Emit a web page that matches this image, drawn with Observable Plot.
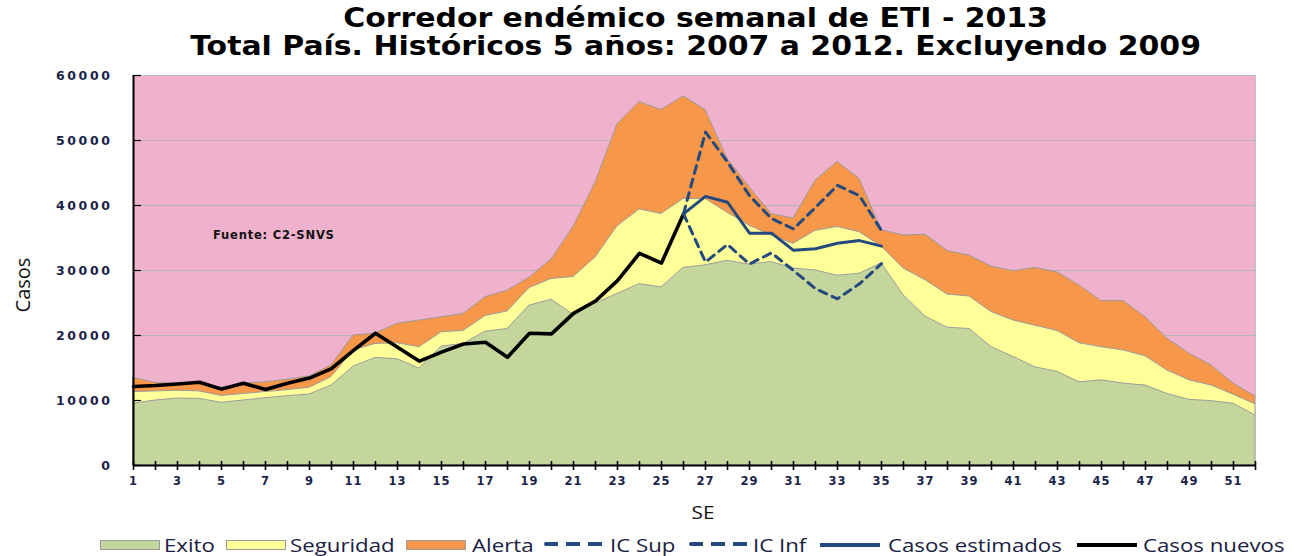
<!DOCTYPE html>
<html>
<head>
<meta charset="utf-8">
<script src="https://cdn.jsdelivr.net/npm/d3@7"></script>
<script src="https://cdn.jsdelivr.net/npm/@observablehq/plot@0.6"></script>
<style>
  body { margin: 0; background: #fff; width: 1293px; height: 556px; position: relative; overflow: hidden; }
  #title { position: absolute; top: 4px; left: 49px; width: 1293px; text-align: center; font-family: "DejaVu Sans", sans-serif; font-weight: bold; font-size: 26px; line-height: 28px; color: #000; transform: scaleX(1.15); transform-origin: 646px 0; }
  #chart { position: absolute; top: 68px; left: 0; }
  #fuente { position: absolute; left: 213px; top: 228px; font-family: "DejaVu Sans", sans-serif; font-weight: bold; font-size: 11.5px; letter-spacing: 0.8px; color: #111; }
  #ylab { position: absolute; left: 22px; top: 285px; transform: translate(-50%, -50%) rotate(-90deg); font-family: "Open Sans", sans-serif; font-size: 20px; color: #111; white-space: nowrap; }
  #xlab { position: absolute; left: 703px; top: 512px; transform: translate(-50%, -50%) scaleX(1.15); font-family: "Open Sans", sans-serif; font-size: 18px; color: #111; }
  .leg { position: absolute; top: 534px; height: 22px; font-family: "Open Sans", sans-serif; font-size: 19px; line-height: 22px; color: #1a2040; white-space: nowrap; }
  .legt { transform: scaleX(1.17); transform-origin: 0 0; }
  .sw { position: absolute; top: 6px; height: 10px; border: 1px solid #9a9a9a; box-sizing: border-box; }
  .ln { position: absolute; top: 9px; height: 0; }
  #chart g[aria-label="y-axis tick label"] text { letter-spacing: 2.6px; }
  #chart g[aria-label="x-axis tick label"] text { letter-spacing: 1px; }
</style>
</head>
<body>
<div id="title">Corredor endémico semanal de ETI - 2013<br>Total País. Históricos 5 años: 2007 a 2012. Excluyendo 2009</div>
<div id="chart"></div>
<div id="fuente">Fuente: C2-SNVS</div>
<div id="ylab">Casos</div>
<div id="xlab">SE</div>
<div id="legend"></div>
<script>
// Semanas epidemiológicas (SE)
const weeks = [1,2,3,4,5,6,7,8,9,10,11,12,13,14,15,16,17,18,19,20,21,22,23,24,25,26,
  27,28,29,30,31,32,33,34,35,36,37,38,39,40,41,42,43,44,45,46,47,48,49,50,51,52];

// Límite superior de cada zona del corredor endémico
const exito = [9500,10000,10300,10250,9650,10000,10350,10670,10920,12300,15200,16550,16350,14900,18300,18700,20600,21000,24600,25500,23200,24900,26400,27900,27400,30400,
  30800,31500,30900,31300,30300,30000,29200,29500,31100,26200,22900,21200,21000,18200,16700,15100,14400,12800,13100,12600,12300,11000,10100,9900,9500,7700];
const seguridad = [11300,11400,11500,11400,10700,11000,11300,11600,11950,13600,17700,18700,18800,18200,20500,20700,23000,23700,27300,28700,29000,32000,36800,39400,38700,41000,
  41000,38900,36900,35400,34100,36100,36700,35900,33700,30300,28500,26300,26000,23600,22300,21500,20700,18800,18200,17700,16800,14600,13100,12300,10900,9400];
const alerta = [13500,12700,12600,12600,12000,12600,12800,13200,13700,15400,20000,20300,21800,22300,22800,23300,25900,26900,28900,31700,36700,43500,52500,55900,54700,56800,
  54700,47200,42800,38700,38000,43800,46700,44100,36200,35400,35500,33000,32300,30600,29900,30400,29700,27700,25300,25300,22800,19500,17200,15400,12600,10600];

// Casos nuevos 2013 (SE 1 a 26)
const nuevosWeeks = [1,2,3,4,5,6,7,8,9,10,11,12,13,14,15,16,17,18,19,20,21,22,23,24,25,26];
const casosNuevos = [12150,12300,12550,12800,11750,12650,11700,12650,13450,14900,17700,20350,18200,16050,17450,18700,18950,16650,20350,20250,23400,25300,28450,32650,31150,38700];

// Estimación (SE 26 a 35)
const estWeeks = [26,27,28,29,30,31,32,33,34,35];
const casosEstimados = [38700,41400,40500,35750,35750,33100,33350,34200,34600,33750];
const icSup = [38700,51300,46700,41500,38000,36400,39700,43100,41500,36150];
const icInf = [38700,31300,34000,31000,32700,30000,27200,25650,27950,31050];

const yTicks = [0,10000,20000,30000,40000,50000,60000];

const zonas = weeks.map((w, i) => ({w, exito: exito[i], seguridad: seguridad[i], alerta: alerta[i]}));
const nuevos = nuevosWeeks.map((w, i) => ({w, v: casosNuevos[i]}));
const est = estWeeks.map((w, i) => ({w, est: casosEstimados[i], sup: icSup[i], inf: icInf[i]}));

const C = {pink: "#f0b1cc", orange: "#f7974a", yellow: "#ffff99", green: "#c4d69c", blue: "#24497f", grid: "#b4b4b4", edge: "#9c9c9c", tick: "#1c1f4a"};

const chart = Plot.plot({
  width: 1293,
  height: 452,
  marginLeft: 133,
  marginRight: 38,
  marginTop: 7,
  marginBottom: 55,
  x: {domain: [1, 52]},
  y: {domain: [0, 60000]},
  marks: [
    Plot.frame({fill: C.pink, stroke: null}),
    Plot.gridY(yTicks.slice(1), {stroke: C.grid, strokeOpacity: 1, strokeWidth: 1.2}),
    Plot.areaY(zonas, {x: "w", y: "alerta", fill: C.orange, stroke: C.edge, strokeWidth: 1}),
    Plot.areaY(zonas, {x: "w", y: "seguridad", fill: C.yellow, stroke: C.edge, strokeWidth: 1}),
    Plot.areaY(zonas, {x: "w", y: "exito", fill: C.green, stroke: C.edge, strokeWidth: 1}),
    Plot.frame({stroke: "#c0c0c0", fill: null}),
    Plot.lineY(nuevos, {x: "w", y: "v", stroke: "#000", strokeWidth: 3.6}),
    Plot.lineY(est, {x: "w", y: "sup", stroke: C.blue, strokeWidth: 3, strokeDasharray: "8,6"}),
    Plot.lineY(est, {x: "w", y: "inf", stroke: C.blue, strokeWidth: 3, strokeDasharray: "8,6"}),
    Plot.lineY(est, {x: "w", y: "est", stroke: C.blue, strokeWidth: 3}),
    Plot.ruleY([0], {stroke: "#000", strokeWidth: 2}),
    Plot.ruleX([1], {stroke: "#000", strokeWidth: 2}),
    Plot.axisX({ticks: weeks, tickSize: 5, tickFormat: d => (d % 2 ? String(d) : ""), tickPadding: 6, fontSize: 11.5, fontWeight: "bold", fill: C.tick, stroke: "#000", strokeWidth: 1.6, label: null}),
    Plot.axisX({ticks: weeks, tickSize: -4, text: null, stroke: "#000", strokeWidth: 1.6, label: null}),
    Plot.axisY({ticks: yTicks, tickSize: 0, tickPadding: 21, tickFormat: d => String(d), fontSize: 12.5, fontWeight: "bold", fill: C.tick, label: null}),
    Plot.axisY({ticks: yTicks, tickSize: -8, text: null, stroke: "#000", strokeWidth: 1.2, label: null})
  ]
});
chart.style.fontFamily = "'DejaVu Sans', sans-serif";
document.getElementById("chart").appendChild(chart);

// Leyenda
const legendItems = [
  {label: "Exito", kind: "sw", color: C.green, x: 100, tx: 164},
  {label: "Seguridad", kind: "sw", color: C.yellow, x: 226, tx: 290},
  {label: "Alerta", kind: "sw", color: C.orange, x: 406, tx: 472},
  {label: "IC Sup", kind: "dash", color: C.blue, x: 544, tx: 610},
  {label: "IC Inf", kind: "dash", color: C.blue, x: 689, tx: 753},
  {label: "Casos estimados", kind: "line", color: C.blue, x: 820, tx: 888},
  {label: "Casos nuevos", kind: "line", color: "#000", x: 1077, tx: 1143}
];
const legend = document.getElementById("legend");
for (const it of legendItems) {
  const mark = document.createElement("div");
  mark.className = "leg";
  mark.style.left = it.x + "px";
  mark.style.width = "62px";
  const inner = document.createElement("div");
  if (it.kind === "sw") {
    inner.className = "sw";
    inner.style.width = "60px";
    inner.style.background = it.color;
  } else if (it.kind === "dash") {
    inner.className = "ln";
    inner.style.width = "60px";
    inner.style.height = "4px";
    inner.style.top = "8px";
    inner.style.background = `repeating-linear-gradient(90deg, ${it.color} 0 14px, transparent 14px 22px)`;
    inner.style.borderRadius = "2px";
  } else {
    inner.className = "ln";
    inner.style.width = "60px";
    inner.style.borderTop = "4px solid " + it.color;
  }
  mark.appendChild(inner);
  legend.appendChild(mark);
  const t = document.createElement("div");
  t.className = "leg legt";
  t.style.left = it.tx + "px";
  t.textContent = it.label;
  legend.appendChild(t);
}
</script>
</body>
</html>
